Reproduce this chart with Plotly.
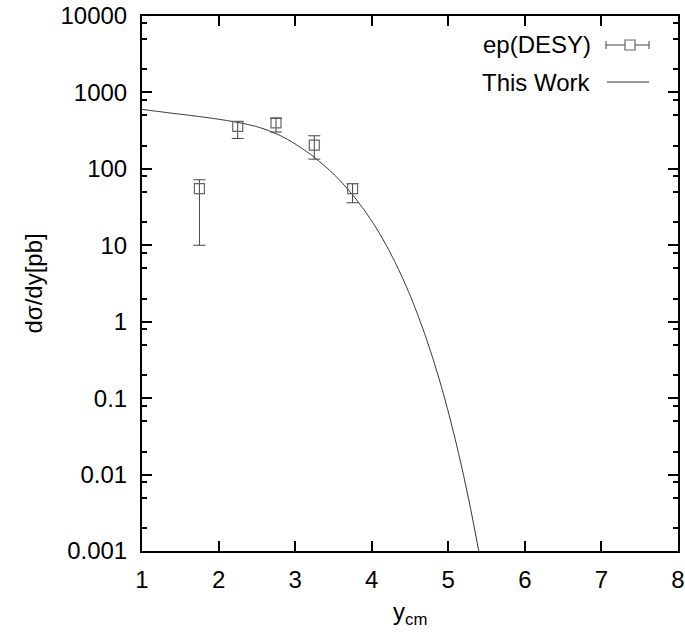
import plotly.graph_objects as go

# Data points: ep(DESY)
desy_x = [1.75, 2.25, 2.75, 3.25, 3.75]
desy_y = [55, 360, 400, 205, 55]
desy_err_plus = [17, 55, 57, 66, 9]
desy_err_minus = [45, 110, 97, 71, 19]

# Curve: This Work
work_x = [1.0, 1.1, 1.2, 1.3, 1.4, 1.5, 1.6, 1.7, 1.8, 1.9, 2.0, 2.1, 2.2, 2.3,
          2.4, 2.5, 2.6, 2.7, 2.8, 2.9, 3.0, 3.1, 3.2, 3.3, 3.4, 3.5, 3.6, 3.7,
          3.8, 3.9, 4.0, 4.1, 4.2, 4.3, 4.4, 4.5, 4.6, 4.7, 4.8, 4.9, 5.0, 5.1,
          5.2, 5.3, 5.4, 5.5]
work_y = [600, 582, 565, 549, 533, 519, 505, 490, 476, 461, 446, 430, 414, 396,
          377, 356, 331, 303, 274, 243, 212, 182, 155, 129, 106, 85.9, 67.9,
          52.5, 39.6, 29.1, 20.8, 14.4, 9.59, 6.15, 3.79, 2.23, 1.24, 0.659,
          0.328, 0.153, 0.0662, 0.0265, 0.00973, 0.00324, 0.000975, 0.000261]

y_tickvals = [0.001, 0.01, 0.1, 1, 10, 100, 1000, 10000]
y_ticktext = ["0.001", "0.01", "0.1", "1", "10", "100", "1000", "10000"]
y_minor = [m * 10 ** e for e in range(-3, 4) for m in (2, 5, 8)]
x_tickvals = [1, 2, 3, 4, 5, 6, 7, 8]

FONT = "Liberation Sans, Arial, sans-serif"
FS = 24

fig = go.Figure()
fig.add_trace(go.Scatter(
    x=work_x, y=work_y, mode="lines",
    line=dict(color="#333333", width=1, shape="spline", smoothing=0.5),
    showlegend=False, cliponaxis=True))
fig.add_trace(go.Scatter(
    x=desy_x, y=desy_y, mode="markers",
    marker=dict(symbol="square-open", size=10, color="#666666",
                line=dict(width=1.2, color="#666666")),
    error_y=dict(type="data", symmetric=False, array=desy_err_plus,
                 arrayminus=desy_err_minus, color="#444444",
                 thickness=1, width=6),
    showlegend=False))

L, R, T, B = 142, 7, 16, 83
W, H = 685, 634
pw = W - L - R
ph = H - T - B

def px(xp):
    return (xp - L) / pw

def py(yp):
    return (H - B - yp) / ph

# legend (gnuplot style: text on left, key on right)
ann = [
    dict(text="ep(DESY)", x=px(593), y=py(45), xref="paper", yref="paper",
         xanchor="right", yanchor="middle", showarrow=False,
         font=dict(family=FONT, size=FS, color="black")),
    dict(text="This Work", x=px(593), y=py(82), xref="paper", yref="paper",
         xanchor="right", yanchor="middle", showarrow=False,
         font=dict(family=FONT, size=FS, color="black")),
    dict(text="y<sub>cm</sub>", x=0.5, y=0, xref="paper", yref="paper",
         xanchor="center", yanchor="middle", yshift=-62, showarrow=False,
         font=dict(family=FONT, size=FS, color="black")),
    dict(text="dσ/dy[pb]", x=0, y=0.5, xref="paper", yref="paper",
         xanchor="center", yanchor="middle", xshift=-109, textangle=-90,
         showarrow=False, font=dict(family=FONT, size=FS, color="black")),
]
shapes = [
    dict(type="line", xref="paper", yref="paper", x0=px(606), x1=px(649),
         y0=py(45), y1=py(45), line=dict(color="#444444", width=1)),
    dict(type="line", xref="paper", yref="paper", x0=px(606), x1=px(606),
         y0=py(41), y1=py(49), line=dict(color="#444444", width=1)),
    dict(type="line", xref="paper", yref="paper", x0=px(649), x1=px(649),
         y0=py(41), y1=py(49), line=dict(color="#444444", width=1)),
    dict(type="rect", xref="paper", yref="paper", x0=px(625), x1=px(635),
         y0=py(40), y1=py(50), line=dict(color="#666666", width=1.2),
         fillcolor="white"),
    dict(type="line", xref="paper", yref="paper", x0=px(607), x1=px(649),
         y0=py(82), y1=py(82), line=dict(color="#333333", width=1)),
]

fig.update_layout(
    width=W, height=H,
    margin=dict(l=L, r=R, t=T, b=B, autoexpand=False),
    paper_bgcolor="white", plot_bgcolor="white",
    font=dict(family=FONT, size=FS, color="black"),
    annotations=ann, shapes=shapes,
    xaxis=dict(range=[1, 8], tickmode="array", tickvals=x_tickvals,
               ticks="inside", ticklen=10, tickwidth=2, tickcolor="black",
               showline=True, linewidth=2, linecolor="black", mirror="ticks",
               showgrid=False, zeroline=False, ticklabelstandoff=6,
               automargin=False,
               tickfont=dict(family=FONT, size=FS, color="black")),
    yaxis=dict(type="log", range=[-3, 4], tickmode="array",
               tickvals=y_tickvals, ticktext=y_ticktext,
               ticks="inside", ticklen=10, tickwidth=2, tickcolor="black",
               showline=True, linewidth=2, linecolor="black", mirror="ticks",
               showgrid=False, zeroline=False, ticklabelstandoff=8,
               automargin=False,
               tickfont=dict(family=FONT, size=FS, color="black"),
               minor=dict(tickmode="array", tickvals=y_minor, ticks="inside",
                          ticklen=5, tickwidth=2, tickcolor="black",
                          showgrid=False)),
)

fig.write_html("out.html")
